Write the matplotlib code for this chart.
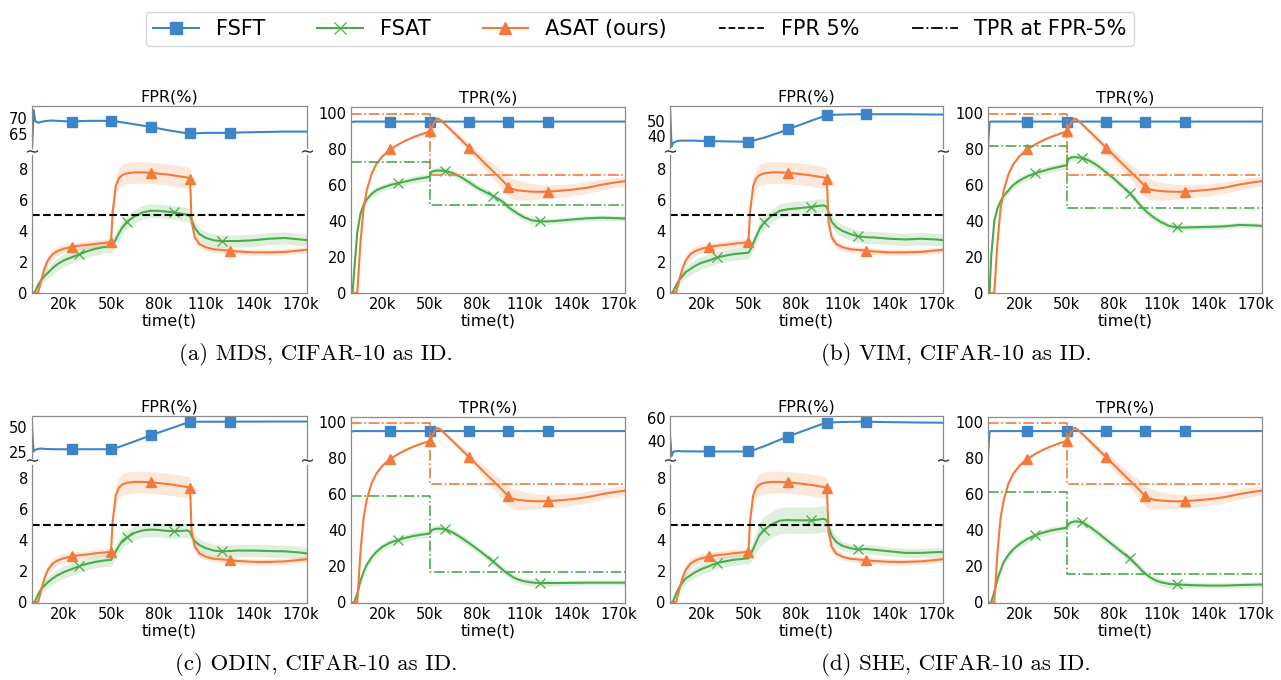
import matplotlib.pyplot as plt
from matplotlib.lines import Line2D

# time axis (in thousands of steps)
T = [0, 1, 2, 4, 6, 8, 10, 13, 16, 20,
     25, 30, 35, 40, 45, 50, 51, 53, 55, 57,
     60, 65, 70, 75, 80, 85, 90, 95, 98, 100,
     101, 103, 106, 110, 115, 120, 125, 130, 140, 150,
     160, 170, 175]
XTICKS = [20, 50, 80, 110, 140, 170]
STEP_T = [0, 50, 175]

# ASAT (ours) is the same in every panel
asat_fpr = [0, 0, 0, 0.05, 0.9, 1.6, 2.1, 2.5, 2.7, 2.85,
            2.97, 3.05, 3.1, 3.17, 3.22, 3.28, 5.2, 6.9, 7.4, 7.6,
            7.72, 7.78, 7.78, 7.75, 7.7, 7.65, 7.58, 7.5, 7.45, 7.38,
            4.6, 3.6, 3.15, 2.95, 2.82, 2.78, 2.73, 2.68, 2.62, 2.62,
            2.65, 2.75, 2.8]
asat_fpr_band = [0, 0, 0, 0, 0.2, 0.3, 0.35, 0.35, 0.3, 0.3,
                 0.25, 0.25, 0.25, 0.25, 0.25, 0.25, 0.4, 0.6, 0.65, 0.7,
                 0.7, 0.7, 0.7, 0.7, 0.7, 0.7, 0.7, 0.7, 0.7, 0.7,
                 0.4, 0.3, 0.25, 0.2, 0.2, 0.2, 0.2, 0.2, 0.2, 0.2,
                 0.2, 0.2, 0.2]
asat_tpr = [0, 0, 0, 0, 28, 47, 57, 66, 71.5, 76,
            79.8, 82.5, 84.8, 86.7, 88.3, 89.7, 91.5, 95, 97, 96,
            93.5, 89.3, 85, 80.7, 76.4, 72, 67.8, 63.5, 60.8, 59,
            58.4, 57.6, 57, 56.6, 56.3, 56.2, 56.3, 56.6, 57.3, 58.5,
            60.3, 61.7, 62.2]
asat_tpr_band = [0, 0, 0, 0, 1, 1, 1, 0.8, 0.6, 0.5,
                 0.5, 0.5, 0.5, 0.5, 0.5, 0.5, 0.5, 0.5, 0.6, 0.8,
                 1.0, 1.5, 2.0, 2.5, 3.0, 3.5, 4.2, 5.0, 5.5, 5.8,
                 5.8, 5.7, 5.5, 5.0, 4.5, 4.0, 3.8, 3.6, 3.4, 3.2,
                 3.0, 2.6, 2.5]

# FSFT TPR is flat around 95
fsft_tpr = [95, 95, 95.2, 95.2, 95.2, 95.2, 95.2, 95.2, 95.2, 95.2,
            95.2, 95.2, 95.2, 95.2, 95.2, 95.2, 95.2, 95.2, 95.2, 95.2,
            95.2, 95.2, 95.2, 95.2, 95.2, 95.2, 95.2, 95.2, 95.2, 95.2,
            95.2, 95.2, 95.2, 95.2, 95.2, 95.2, 95.2, 95.2, 95.2, 95.2,
            95.2, 95.2, 95.2]
fsft_tpr_dip = [82, 95, 95.2, 95.2, 95.2, 95.2, 95.2, 95.2, 95.2, 95.2,
                95.2, 95.2, 95.2, 95.2, 95.2, 95.2, 95.2, 95.2, 95.2, 95.2,
                95.2, 95.2, 95.2, 95.2, 95.2, 95.2, 95.2, 95.2, 95.2, 95.2,
                95.2, 95.2, 95.2, 95.2, 95.2, 95.2, 95.2, 95.2, 95.2, 95.2,
                95.2, 95.2, 95.2]

fsat_fpr_band = [0, 0, 0.1, 0.25, 0.3, 0.35, 0.35, 0.4, 0.4, 0.4,
                 0.4, 0.4, 0.4, 0.4, 0.4, 0.4, 0.4, 0.45, 0.45, 0.45,
                 0.45, 0.45, 0.45, 0.45, 0.45, 0.45, 0.45, 0.45, 0.45, 0.45,
                 0.4, 0.4, 0.4, 0.4, 0.4, 0.4, 0.4, 0.4, 0.4, 0.4,
                 0.4, 0.4, 0.4]
she_fsat_fpr_band = [0, 0, 0.1, 0.25, 0.3, 0.35, 0.35, 0.35, 0.35, 0.35,
                     0.35, 0.35, 0.35, 0.35, 0.35, 0.35, 0.45, 0.6, 0.7, 0.8,
                     0.85, 0.85, 0.85, 0.85, 0.85, 0.85, 0.85, 0.85, 0.85, 0.8,
                     0.6, 0.45, 0.35, 0.3, 0.3, 0.3, 0.3, 0.3, 0.3, 0.3,
                     0.3, 0.3, 0.3]
fsat_tpr_band = [0, 0, 1, 2, 2, 2, 2, 2, 2, 2,
                 2, 2, 2, 2, 2, 2, 2, 2, 2, 2,
                 2, 2, 2, 2, 2, 2, 2, 2, 2, 2,
                 2, 2, 2, 2, 2, 2, 1.8, 1.6, 1.5, 1.5,
                 1.5, 1.5, 1.5]

# (a) MDS
mds_fsft_fpr = [60, 72.5, 69, 68.5, 68.8, 69, 69.1, 69.2, 69.1, 69,
                68.8, 69, 69.1, 69.1, 69.1, 69, 69, 68.9, 68.8, 68.6,
                68.4, 68, 67.6, 67.2, 66.7, 66.2, 65.8, 65.4, 65.2, 65.1,
                65.1, 65.1, 65.2, 65.3, 65.3, 65.3, 65.3, 65.4, 65.5, 65.6,
                65.7, 65.7, 65.7]
mds_fsat_fpr = [0, 0, 0.1, 0.55, 0.85, 1.1, 1.3, 1.6, 1.85, 2.1,
                2.3, 2.5, 2.7, 2.85, 2.95, 3.0, 3.1, 3.45, 3.85, 4.2,
                4.6, 4.95, 5.2, 5.3, 5.3, 5.25, 5.2, 5.1, 5.05, 4.95,
                4.7, 4.2, 3.8, 3.55, 3.4, 3.35, 3.35, 3.35, 3.4, 3.5,
                3.55, 3.45, 3.4]
mds_fsat_tpr = [0, 0, 12, 34, 44, 49, 52, 55, 57, 58.5,
                60, 61, 62, 63, 63.8, 64.5, 67.3, 67.8, 68, 68,
                67.8, 66.5, 64.3, 61.5, 58.5, 56.3, 54, 51.5, 49.5, 47.5,
                47, 45.8, 44, 42, 40.3, 39.8, 39.8, 40, 40.8, 41.5,
                41.8, 41.5, 41.3]
mds_step_asat = [99.5, 65.8, 65.8]
mds_step_fsat = [72.5, 48.8, 48.8]

# (b) VIM
vim_fsft_fpr = [60, 33, 35.5, 36.5, 37, 37, 37, 37, 37, 36.8,
                36.7, 36.6, 36.5, 36.4, 36.3, 36.2, 36.4, 37, 37.6, 38.2,
                39, 40.8, 42.6, 44.7, 46.6, 48.5, 50.5, 52.4, 53.6, 54.3,
                54.4, 54.5, 54.6, 54.7, 54.8, 54.9, 54.9, 54.9, 54.9, 54.9,
                54.8, 54.7, 54.7]
vim_fsat_fpr = [0, 0, 0.1, 0.5, 0.85, 1.1, 1.35, 1.55, 1.75, 1.95,
                2.1, 2.3, 2.4, 2.5, 2.55, 2.6, 2.75, 3.2, 3.65, 4.1,
                4.55, 5.0, 5.3, 5.4, 5.45, 5.5, 5.55, 5.62, 5.65, 5.55,
                5.2, 4.6, 4.25, 4.0, 3.8, 3.65, 3.6, 3.58, 3.5, 3.45,
                3.5, 3.45, 3.4]
vim_fsat_tpr = [0, 0, 20, 40, 47, 51, 54, 57, 60, 62.5,
                64.8, 66.5, 67.8, 69, 70, 71, 74.5, 75.3, 75.5, 75.3,
                75, 73.2, 70.5, 67, 63.5, 59.5, 55.4, 50.5, 47.5, 45.8,
                45, 43.5, 41.5, 39.3, 37.3, 36.4, 36.4, 36.5, 36.7, 37,
                37.8, 37.5, 37.2]
vim_step_asat = [99.5, 65.6, 65.6]
vim_step_fsat = [81.5, 47.0, 47.0]

# (c) ODIN
odin_fsft_fpr = [50, 25.5, 27, 28, 28.3, 28, 27.8, 27.7, 27.6, 27.6,
                 27.6, 27.6, 27.6, 27.6, 27.6, 27.6, 27.9, 28.8, 29.9, 31,
                 32.7, 35.5, 38.4, 41.4, 44.1, 46.8, 49.5, 52.3, 53.9, 54.9,
                 55, 55, 55, 55, 55, 55, 55, 55.1, 55.1, 55.2,
                 55.2, 55.2, 55.2]
odin_fsat_fpr = [0, 0, 0.1, 0.55, 0.9, 1.1, 1.3, 1.55, 1.75, 1.95,
                 2.15, 2.35, 2.5, 2.62, 2.7, 2.75, 2.9, 3.3, 3.65, 3.95,
                 4.2, 4.5, 4.65, 4.7, 4.68, 4.62, 4.6, 4.62, 4.65, 4.55,
                 4.3, 3.95, 3.7, 3.5, 3.35, 3.3, 3.32, 3.35, 3.35, 3.32,
                 3.3, 3.22, 3.15]
odin_fsat_tpr = [0, 0, 0, 5, 12, 17, 21, 25, 28, 31,
                 33.3, 34.8, 36, 37, 37.7, 38.3, 40, 40.8, 41, 41,
                 40.7, 38.7, 36, 33, 29.8, 26.4, 23, 19.2, 17, 15.8,
                 15.2, 14, 12.8, 11.8, 11.1, 10.8, 10.8, 10.8, 10.9, 11,
                 11, 11, 11]
odin_step_asat = [99.5, 65.8, 65.8]
odin_step_fsat = [59.3, 16.8, 16.8]

# (d) SHE
she_fsft_fpr = [45, 27, 30.5, 31.3, 31.2, 31, 31, 31, 31, 30.9,
                30.9, 30.9, 30.9, 30.9, 30.9, 30.9, 31.2, 32, 33, 34,
                35.4, 38.2, 41, 43.7, 46.2, 48.7, 51.2, 53.7, 55, 55.7,
                55.8, 56, 56.2, 56.4, 56.5, 56.6, 56.6, 56.5, 56.3, 56.1,
                55.9, 55.8, 55.7]
she_fsat_fpr = [0, 0, 0.1, 0.6, 1.0, 1.3, 1.55, 1.75, 1.95, 2.15,
                2.35, 2.55, 2.65, 2.75, 2.8, 2.85, 3.0, 3.45, 3.9, 4.35,
                4.7, 5.05, 5.28, 5.32, 5.3, 5.3, 5.3, 5.35, 5.4, 5.3,
                4.9, 4.3, 3.9, 3.65, 3.5, 3.42, 3.45, 3.4, 3.3, 3.2,
                3.2, 3.25, 3.25]
she_fsat_tpr = [0, 0, 0, 6, 13, 18, 22.5, 26.5, 29.5, 32.5,
                35.3, 37.3, 38.8, 40, 40.8, 41.5, 43.5, 44.6, 45, 45,
                44.5, 41.8, 38.5, 35, 31.5, 28, 24.5, 20.3, 17.5, 16,
                15.3, 14, 12.5, 11.2, 10.3, 10, 9.8, 9.6, 9.4, 9.4,
                9.7, 9.9, 10]
she_step_asat = [99.5, 65.8, 65.8]
she_step_fsat = [61.2, 15.8, 15.8]

captions = ['(a) MDS, CIFAR-10 as ID.', '(b) VIM, CIFAR-10 as ID.',
            '(c) ODIN, CIFAR-10 as ID.', '(d) SHE, CIFAR-10 as ID.']

C_FSFT = '#3d85c6'
C_FSAT = '#4aab4a'
C_ASAT = '#f37a3a'
SPINE = '#8a8a8a'

W, H = 1281, 680
fig = plt.figure(figsize=(W / 100, H / 100), dpi=100)

mk25 = [T.index(v) for v in (25, 50, 75, 100, 125)]
mk30 = [T.index(v) for v in (30, 60, 90, 120)]


def px_axes(left, top, right, bottom):
    return fig.add_axes([left / W, 1 - bottom / H, (right - left) / W, (bottom - top) / H])


def style(ax):
    for s in ax.spines.values():
        s.set_color(SPINE)
        s.set_linewidth(0.9)
    ax.tick_params(length=0, pad=3, labelsize=10.5)
    ax.set_xlim(0, 174)


def band(ax, y, w, c):
    lo = [a - b for a, b in zip(y, w)]
    hi = [a + b for a, b in zip(y, w)]
    ax.fill_between(T, lo, hi, color=c, alpha=0.18, lw=0)


def panel(x0, x1, tx0, tx1, dy, fsft_fpr, top_lim, top_ticks,
          fsat_fpr, fsat_band, fsat_tpr, fsft_tpr_line, step_asat, step_fsat):
    # FPR broken axis: top part for FSFT, bottom part for FSAT / ASAT
    top = px_axes(x0, 106 + dy, x1, 148 + dy)
    bot = px_axes(x0, 155 + dy, x1, 293 + dy)
    for ax in (top, bot):
        style(ax)
    top.plot(T, fsft_fpr, color=C_FSFT, lw=1.5, marker='s', ms=7, markevery=mk25)
    top.set_ylim(*top_lim)
    top.set_yticks(top_ticks)
    top.spines['bottom'].set_visible(False)
    top.tick_params(labelbottom=False)
    top.set_title('FPR(%)', fontsize=11.5, pad=3)
    bot.spines['top'].set_visible(False)

    band(bot, fsat_fpr, fsat_band, C_FSAT)
    band(bot, asat_fpr, asat_fpr_band, C_ASAT)
    bot.plot(T, fsat_fpr, color=C_FSAT, lw=1.5, marker='x', ms=7, mew=0.9,
             markevery=mk30)
    bot.plot(T, asat_fpr, color=C_ASAT, lw=1.5, marker='^', ms=7, markevery=mk25)
    bot.axhline(5, color='black', ls='--', lw=1.5)
    bot.set_ylim(0, 8.9)
    bot.set_yticks([0, 2, 4, 6, 8])
    bot.set_xticks(XTICKS)
    bot.set_xticklabels([f'{v}k' for v in XTICKS])
    bot.set_xlabel('time(t)', fontsize=11.5, labelpad=1)
    # break marks between the two parts of the FPR axis
    bot.plot([0, 1], [1.03, 1.03], transform=bot.transAxes, ls='none',
             marker=r'$\sim$', ms=8, mew=0, color='#333333', clip_on=False)

    # TPR
    tp = px_axes(tx0, 107 + dy, tx1, 293 + dy)
    style(tp)
    band(tp, fsat_tpr, fsat_tpr_band, C_FSAT)
    band(tp, asat_tpr, asat_tpr_band, C_ASAT)
    tp.plot(T, fsft_tpr_line, color=C_FSFT, lw=1.5, marker='s', ms=7, markevery=mk25)
    tp.plot(T, fsat_tpr, color=C_FSAT, lw=1.5, marker='x', ms=7, mew=0.9,
            markevery=mk30)
    tp.plot(T, asat_tpr, color=C_ASAT, lw=1.5, marker='^', ms=7, markevery=mk25)
    tp.plot(STEP_T, step_asat, color=C_ASAT, ls='-.', lw=1.2, drawstyle='steps-post')
    tp.plot(STEP_T, step_fsat, color=C_FSAT, ls='-.', lw=1.2, drawstyle='steps-post')
    tp.set_ylim(0, 103.3)
    tp.set_yticks([0, 20, 40, 60, 80, 100])
    tp.set_xticks(XTICKS)
    tp.set_xticklabels([f'{v}k' for v in XTICKS])
    tp.set_xlabel('time(t)', fontsize=11.5, labelpad=1)
    tp.set_title('TPR(%)', fontsize=11.5, pad=3)


ROW2 = 309.5
panel(32, 307, 351, 625, 0, mds_fsft_fpr, (60.5, 73.8), [65, 70],
      mds_fsat_fpr, fsat_fpr_band, mds_fsat_tpr, fsft_tpr, mds_step_asat, mds_step_fsat)
panel(670, 943, 988, 1262, 0, vim_fsft_fpr, (32, 60.5), [40, 50],
      vim_fsat_fpr, fsat_fpr_band, vim_fsat_tpr, fsft_tpr_dip, vim_step_asat, vim_step_fsat)
panel(32, 307, 351, 625, ROW2, odin_fsft_fpr, (19.4, 61.2), [25, 50],
      odin_fsat_fpr, fsat_fpr_band, odin_fsat_tpr, fsft_tpr, odin_step_asat, odin_step_fsat)
panel(670, 943, 988, 1262, ROW2, she_fsft_fpr, (25.7, 62), [40, 60],
      she_fsat_fpr, she_fsat_fpr_band, she_fsat_tpr, fsft_tpr_dip, she_step_asat, she_step_fsat)

# sub-figure captions
for cap, (cx, cy) in zip(captions, [(316, 355), (956, 355), (316, 665), (956, 665)]):
    fig.text(cx / W, 1 - cy / H, cap, ha='center', va='center', fontsize=16.5,
             family='cmr10')

# shared legend
handles = [
    Line2D([], [], color=C_FSFT, lw=1.5, marker='s', ms=9),
    Line2D([], [], color=C_FSAT, lw=1.5, marker='x', ms=9, mew=0.9),
    Line2D([], [], color=C_ASAT, lw=1.5, marker='^', ms=9),
    Line2D([], [], color='black', lw=1.3, ls='--'),
    Line2D([], [], color='black', lw=1.3, ls='-.'),
]
labels = ['FSFT', 'FSAT', 'ASAT (ours)', 'FPR 5%', 'TPR at FPR-5%']
fig.legend(handles, labels, loc='center', bbox_to_anchor=(640 / W, 1 - 29 / H),
           ncol=5, fontsize=15, frameon=True, edgecolor='#cccccc',
           handlelength=2.2, columnspacing=2.5, borderpad=0.35)

fig.savefig('out.png', dpi=100)
